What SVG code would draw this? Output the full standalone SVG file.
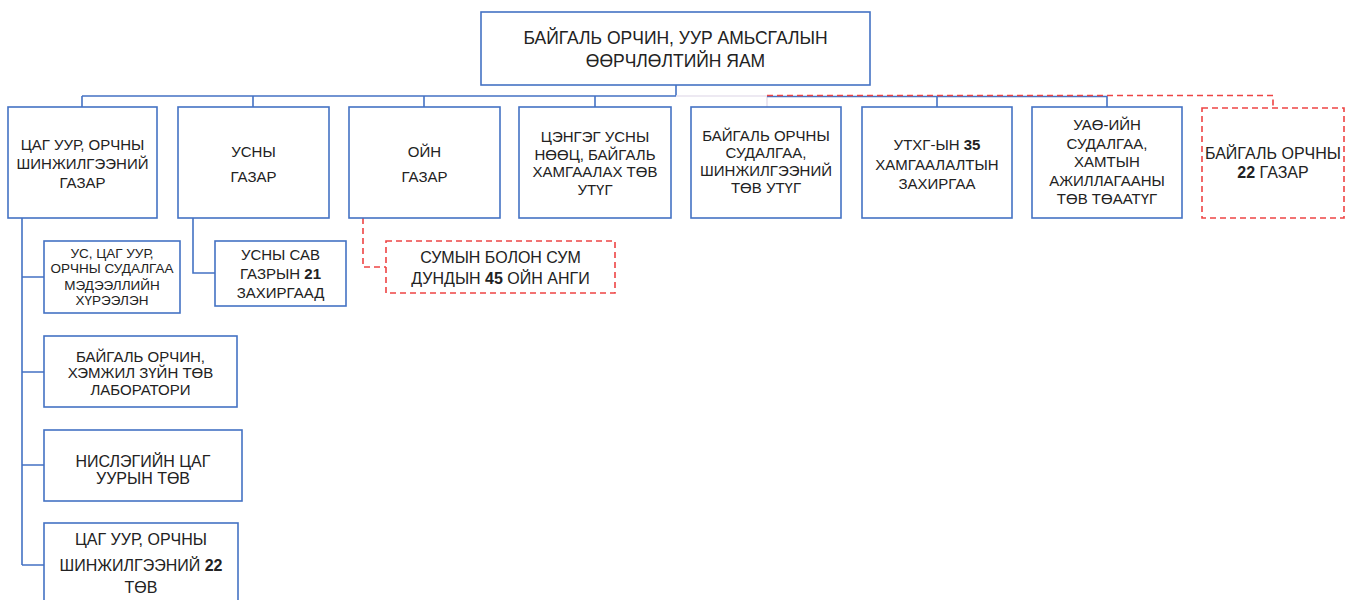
<svg xmlns="http://www.w3.org/2000/svg" width="1354" height="600" viewBox="0 0 1354 600">
<style>
.b{fill:#fff;stroke:#4472C4;stroke-width:1.6}
.r{fill:#fff;stroke:#EE4444;stroke-width:1.6;stroke-dasharray:6 4}
.c{fill:none;stroke:#4472C4;stroke-width:1.6}
.cr{fill:none;stroke:#EE4444;stroke-width:1.6;stroke-dasharray:6 4}
.cf{fill:none;stroke:#E8E2EE;stroke-width:1.6}
text{font-family:"Liberation Sans",Arial,sans-serif;fill:#222;text-anchor:middle;font-size:15px}
.s13{font-size:13.5px}
.s16{font-size:16px}
.s17{font-size:17.5px}
.bd{font-weight:bold}
</style>
<rect width="1354" height="600" fill="#fff"/>
<g id="connectors">
<path class="c" d="M676 85V96M82 96H676M82 96V107M253 96V107M424 96V107M595 96V107"/>
<path class="cf" d="M676 96H767V107"/>
<path class="c" d="M767 96.5H1107M937 96V107M1107 96V107"/>
<path class="cr" d="M767 95.5H1273V106"/>
<path class="c" d="M22 218V565M22 277H44M22 372H44M22 465H44M22 565H44"/>
<path class="c" d="M193 218V273H215"/>
<path class="cr" d="M363 218V267H386"/>
</g>
<g id="n0"><rect class="b" x="481" y="12" width="389" height="73"/>
<text class="s17" x="675.5" y="44">БАЙГАЛЬ ОРЧИН, УУР АМЬСГАЛЫН</text>
<text class="s17" x="675.5" y="67">ӨӨРЧЛӨЛТИЙН ЯАМ</text></g>
<g id="n1"><rect class="b" x="8" y="107" width="149" height="111"/>
<text x="82.5" y="150">ЦАГ УУР, ОРЧНЫ</text><text x="82.5" y="169">ШИНЖИЛГЭЭНИЙ</text><text x="82.5" y="188">ГАЗАР</text></g>
<g id="n2"><rect class="b" x="178" y="107" width="151" height="111"/>
<text x="253.5" y="157">УСНЫ</text><text x="253.5" y="182">ГАЗАР</text></g>
<g id="n3"><rect class="b" x="349" y="107" width="151" height="111"/>
<text x="424.5" y="157">ОЙН</text><text x="424.5" y="182">ГАЗАР</text></g>
<g id="n4"><rect class="b" x="519" y="107" width="152" height="111"/>
<text x="595" y="142">ЦЭНГЭГ УСНЫ</text><text x="595" y="159.5">НӨӨЦ, БАЙГАЛЬ</text><text x="595" y="177">ХАМГААЛАХ ТӨВ</text><text x="595" y="194.5">УТҮГ</text></g>
<g id="n5"><rect class="b" x="691" y="107" width="150" height="111"/>
<text x="766" y="140.5">БАЙГАЛЬ ОРЧНЫ</text><text x="766" y="158">СУДАЛГАА,</text><text x="766" y="175.5">ШИНЖИЛГЭЭНИЙ</text><text x="766" y="193">ТӨВ УТҮГ</text></g>
<g id="n6"><rect class="b" x="862" y="107" width="150" height="111"/>
<text x="937" y="150">УТХГ-ЫН <tspan class="bd">35</tspan></text><text x="937" y="170">ХАМГААЛАЛТЫН</text><text x="937" y="189">ЗАХИРГАА</text></g>
<g id="n7"><rect class="b" x="1032" y="107" width="150" height="111"/>
<text x="1107" y="130">УАӨ-ИЙН</text><text x="1107" y="148.5">СУДАЛГАА,</text><text x="1107" y="167">ХАМТЫН</text><text x="1107" y="185.5">АЖИЛЛАГААНЫ</text><text x="1107" y="204">ТӨВ ТӨААТҮГ</text></g>
<g id="n8"><rect class="r" x="1202" y="108" width="142" height="110"/>
<text class="s16" x="1273" y="159">БАЙГАЛЬ ОРЧНЫ</text><text class="s16" x="1273" y="178"><tspan class="bd">22</tspan> ГАЗАР</text></g>
<g id="n9"><rect class="b" x="44" y="241" width="136" height="72"/>
<text class="s13" x="112" y="258">УС, ЦАГ УУР,</text><text class="s13" x="112" y="273">ОРЧНЫ СУДАЛГАА</text><text class="s13" x="112" y="290">МЭДЭЭЛЛИЙН</text><text class="s13" x="112" y="305">ХҮРЭЭЛЭН</text></g>
<g id="n10"><rect class="b" x="44" y="336" width="193" height="71"/>
<text x="140.5" y="362">БАЙГАЛЬ ОРЧИН,</text><text x="140.5" y="378">ХЭМЖИЛ ЗҮЙН ТӨВ</text><text x="140.5" y="395">ЛАБОРАТОРИ</text></g>
<g id="n11"><rect class="b" x="44" y="430" width="198" height="71"/>
<text class="s16" x="143" y="467">НИСЛЭГИЙН ЦАГ</text><text class="s16" x="143" y="484">УУРЫН ТӨВ</text></g>
<g id="n12"><rect class="b" x="44" y="523" width="194" height="90"/>
<text class="s16" x="141" y="545">ЦАГ УУР, ОРЧНЫ</text><text class="s16" x="141" y="571">ШИНЖИЛГЭЭНИЙ <tspan class="bd">22</tspan></text><text class="s16" x="141" y="593">ТӨВ</text></g>
<g id="n13"><rect class="b" x="215" y="241" width="131" height="65"/>
<text x="280.5" y="260">УСНЫ САВ</text><text x="280.5" y="279">ГАЗРЫН <tspan class="bd">21</tspan></text><text x="280.5" y="298">ЗАХИРГААД</text></g>
<g id="n14"><rect class="r" x="386" y="241" width="229" height="52"/>
<text class="s16" x="500.5" y="263">СУМЫН БОЛОН СУМ</text><text class="s16" x="500.5" y="284">ДУНДЫН <tspan class="bd">45</tspan> ОЙН АНГИ</text></g>
</svg>
